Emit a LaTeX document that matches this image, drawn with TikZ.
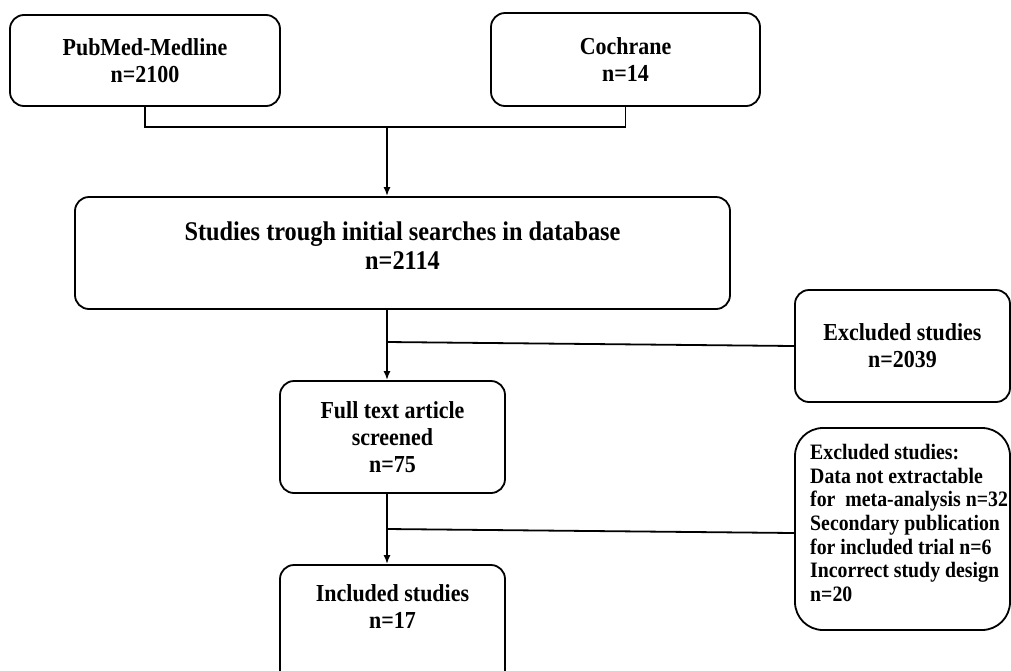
\documentclass[tikz,border=0pt]{standalone}
\usepackage{fontspec}
\setmainfont{Liberation Serif}[FakeStretch=0.9]
\usetikzlibrary{arrows.meta,calc}
\begin{document}
\begin{tikzpicture}[x=1pt,y=-1pt,
  box/.style={draw=black,line width=1.8pt,rounded corners=14pt,inner sep=0pt},
  bigbox/.style={box,rounded corners=28pt},
  txt/.style={font=\fontsize{24.4}{27}\selectfont\bfseries,align=center,inner sep=0pt},
  conn/.style={line width=1.8pt},
  arr/.style={conn,-{Latex[length=9pt,width=7pt]}}]
\useasboundingbox (0,0) rectangle (1011,670);
% boxes
\node[box,txt,minimum width=270pt,minimum height=91pt] (pub) at (145,60.5) {PubMed-Medline\\n=2100};
\node[box,txt,minimum width=269pt,minimum height=93pt] (coch) at (625.5,59.5) {Cochrane\\n=14};
\node[box,minimum width=655pt,minimum height=112pt] (big) at (402.5,253) {};
\node[txt,font=\fontsize{27}{29}\selectfont\bfseries] (bigt) at (402.5,246) {Studies trough initial searches in database\\n=2114};
\node[box,txt,minimum width=225pt,minimum height=112pt] (full) at (392.5,437) {Full text article\\screened\\n=75};
\node[box,minimum width=225pt,minimum height=130pt] (incl) at (392.5,630) {};
\node[txt,anchor=north] (inclt) at (392.5,584) {Included studies\\n=17};
\node[box,txt,minimum width=215pt,minimum height=112pt] (ex1) at (902.5,346) {Excluded studies\\n=2039};
\node[bigbox,minimum width=215pt,minimum height=202pt] (ex2) at (902.5,529) {};
\node[txt,align=left,anchor=west,font=\fontsize{22}{23.7}\selectfont\bfseries] (ex2t) at (810,523)
  {Excluded studies:\\Data not extractable\\for\ \ meta-analysis n=32\\Secondary publication\\for included trial n=6\\Incorrect study design\\n=20};
% connectors
\coordinate (j1) at (387,127);
\draw[conn] (pub.south) |- (j1) -| (coch.south);
\draw[arr] (j1) -- (j1 |- big.north);
\draw[arr] (j1 |- big.south) -- (j1 |- full.north);
\coordinate (s1) at (387,342);
\draw[conn] (s1) -- (ex1.west);
\draw[arr] (j1 |- full.south) -- (j1 |- incl.north);
\coordinate (s2) at (387,529);
\draw[conn] (s2) -- ($(ex2.west)+(0,4)$);
\end{tikzpicture}
\end{document}
